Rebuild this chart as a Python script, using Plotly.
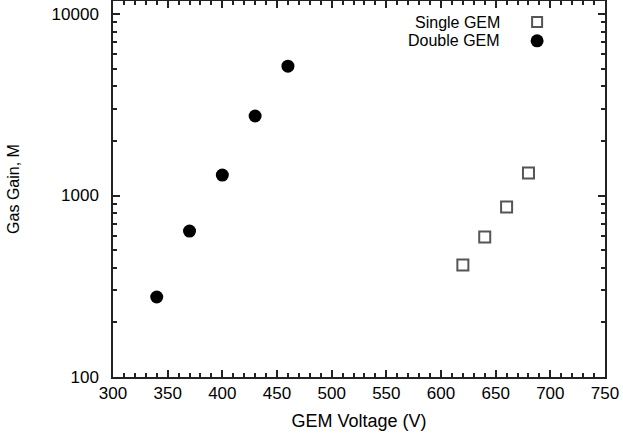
import plotly.graph_objects as go

series_names = ["Single GEM", "Double GEM"]
single_v = [620, 640, 660, 680]
single_gain = [414, 590, 865, 1331]
double_v = [340, 370, 400, 430, 460]
double_gain = [276, 637, 1297, 2743, 5165]
x_ticks = [300, 350, 400, 450, 500, 550, 600, 650, 700, 750]
y_ticks = [100, 1000, 10000]

FONT = "Liberation Sans, Arial, Helvetica, sans-serif"
AX = "#222222"

fig = go.Figure()
fig.add_trace(go.Scatter(x=single_v, y=single_gain, mode="markers", name=series_names[0],
                         marker=dict(symbol="square-open", size=11, color="#555555",
                                     line=dict(width=2, color="#555555")), showlegend=False))
fig.add_trace(go.Scatter(x=double_v, y=double_gain, mode="markers", name=series_names[1],
                         marker=dict(symbol="circle", size=13, color="black"), showlegend=False))

minor_y = [m * 10 ** e for e in (2, 3) for m in range(2, 10)]
minor_x = [v for v in range(300, 751, 10) if v % 50]

fig.update_layout(
    width=623, height=438,
    margin=dict(l=113, r=18, t=1, b=61),
    paper_bgcolor="white", plot_bgcolor="white",
    font=dict(family=FONT, size=16, color="black"),
    xaxis=dict(range=[300, 750], tickvals=x_ticks, ticks="inside", ticklen=7, tickwidth=1.5, tickcolor=AX,
               showline=True, linecolor=AX, linewidth=1.5, mirror="ticks", showgrid=False, zeroline=False,
               automargin=False,
               minor=dict(tickvals=minor_x, ticks="inside", ticklen=4, tickwidth=1.5, tickcolor=AX, showgrid=False),
               title=dict(text="GEM Voltage (V)", font=dict(size=18), standoff=12),
               tickfont=dict(size=17)),
    yaxis=dict(type="log", range=[2, 4.072], tickvals=y_ticks, ticktext=[str(v) for v in y_ticks],
               ticks="inside", ticklen=7, tickwidth=1.5, tickcolor=AX, ticklabelstandoff=9,
               showline=True, linecolor=AX, linewidth=1.5, mirror="ticks", showgrid=False, zeroline=False,
               automargin=False,
               minor=dict(tickvals=minor_y, ticks="inside", ticklen=4, tickwidth=1.5, tickcolor=AX, showgrid=False),
               title=dict(text="Gas Gain, M", font=dict(size=16), standoff=28),
               tickfont=dict(size=17)),
)

# Legend emulation: right-aligned text, symbol to the right
leg_y = [0.944, 0.894]
for name, yy in zip(series_names, leg_y):
    fig.add_annotation(x=0.79, y=yy, xref="paper", yref="paper", text=name, showarrow=False,
                       xanchor="right", yanchor="middle", font=dict(size=16))
fig.add_shape(type="rect", xref="paper", yref="paper", xsizemode="pixel", ysizemode="pixel",
              xanchor=0.862, yanchor=leg_y[0], x0=-5, x1=5, y0=-5, y1=5,
              line=dict(color="#555555", width=2))
fig.add_shape(type="circle", xref="paper", yref="paper", xsizemode="pixel", ysizemode="pixel",
              xanchor=0.862, yanchor=leg_y[1], x0=-6.5, x1=6.5, y0=-6.5, y1=6.5,
              line=dict(color="black", width=0), fillcolor="black")

fig.write_html("out.html", config={"displayModeBar": False},
               post_script="document.body.style.margin='0';document.body.style.overflow='hidden';")
